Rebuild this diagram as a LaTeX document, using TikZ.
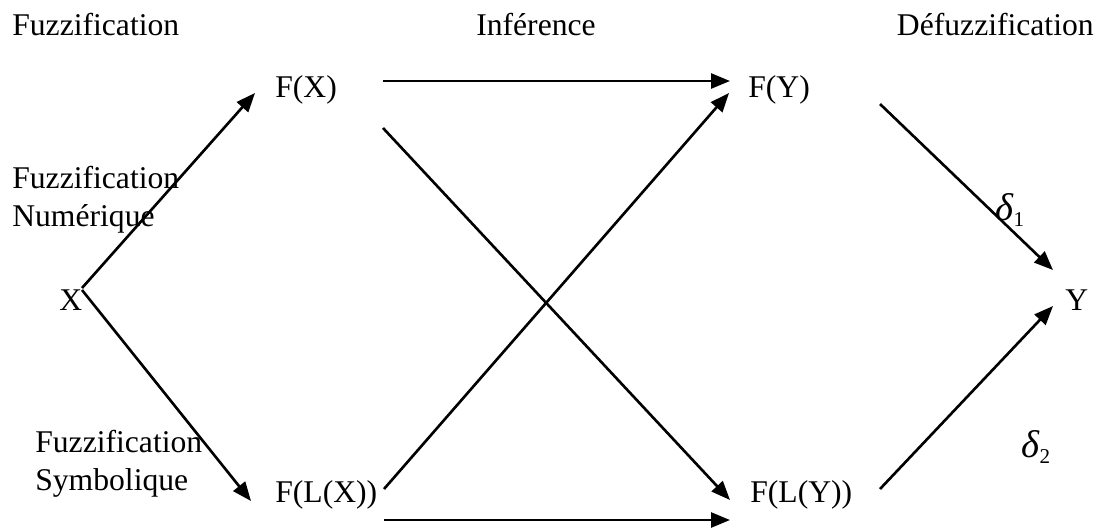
\documentclass[tikz,border=0pt]{standalone}
\usepackage{fontspec}
\setmainfont{Liberation Serif}
\usepackage{tikz}
\usetikzlibrary{arrows.meta}
\tikzset{every node/.style={font=\fontsize{18}{21.6}\selectfont}}
\newcommand{\lowsub}[1]{\raisebox{-0.35ex}{\upshape\fontsize{12}{14}\selectfont #1}}

\begin{document}
\begin{tikzpicture}[
    x=0.02cm, y=-0.02cm,
    >={Triangle[length=0.38cm, width=0.3cm]},
    lbl/.style={inner sep=0pt, anchor=base west},
    head/.style={inner sep=0pt, anchor=base},
    stack/.style={inner sep=0pt, anchor=north west, align=left},
    greek/.style={inner sep=0pt, font=\fontsize{22}{26}\selectfont\itshape},
    link/.style={->, line width=1.5pt}
]
\useasboundingbox (0,0) rectangle (1101,528);

% column titles
\node (fuzz) [lbl] at (12,35) {Fuzzification};
\node (inf) [head] at (536,35) {Inférence};
\node (defuzz) [lbl, anchor=base east] at (1094,35) {Défuzzification};

% side notes
\node (num) [stack] at (12,166) {Fuzzification\\Numérique};
\node (sym) [stack] at (35,430) {Fuzzification\\Symbolique};

% main nodes
\node (x) [lbl] at (59,310) {X};
\node (fx) [lbl] at (275,97) {F(X)};
\node (fy) [lbl] at (748,97) {F(Y)};
\node (flx) [lbl] at (275,502) {F(L(X))};
\node (fly) [lbl] at (750,502) {F(L(Y))};
\node (y) [lbl] at (1065,310) {Y};

\node (d1) [greek] at (1010,210) {δ\lowsub{1}};
\node (d2) [greek] at (1036,447) {δ\lowsub{2}};

% arrow ends
\coordinate (x-up) at (82,288);
\coordinate (x-dn) at (82,290);
\coordinate (fx-in) at (255,93);
\coordinate (fx-out) at (383,81);
\coordinate (fx-x) at (383,128);
\coordinate (fy-in) at (730,81);
\coordinate (fy-x) at (729,93);
\coordinate (fy-out) at (880,104);
\coordinate (flx-in) at (251,501);
\coordinate (flx-x) at (384,489);
\coordinate (flx-out) at (384,520);
\coordinate (fly-x) at (730,500);
\coordinate (fly-in) at (730,520);
\coordinate (fly-out) at (880,489);
\coordinate (y-up) at (1053,270);
\coordinate (y-dn) at (1053,306);

\draw[link] (x-up) -- (fx-in);
\draw[link] (x-dn) -- (flx-in);

\draw[link] (fx-out) -- (fy-in);
\draw[link] (fx-x) -- (fly-x);
\draw[link] (flx-x) -- (fy-x);
\draw[link] (flx-out) -- (fly-in);

\draw[link] (fy-out) -- (y-up);
\draw[link] (fly-out) -- (y-dn);

\end{tikzpicture}
\end{document}
